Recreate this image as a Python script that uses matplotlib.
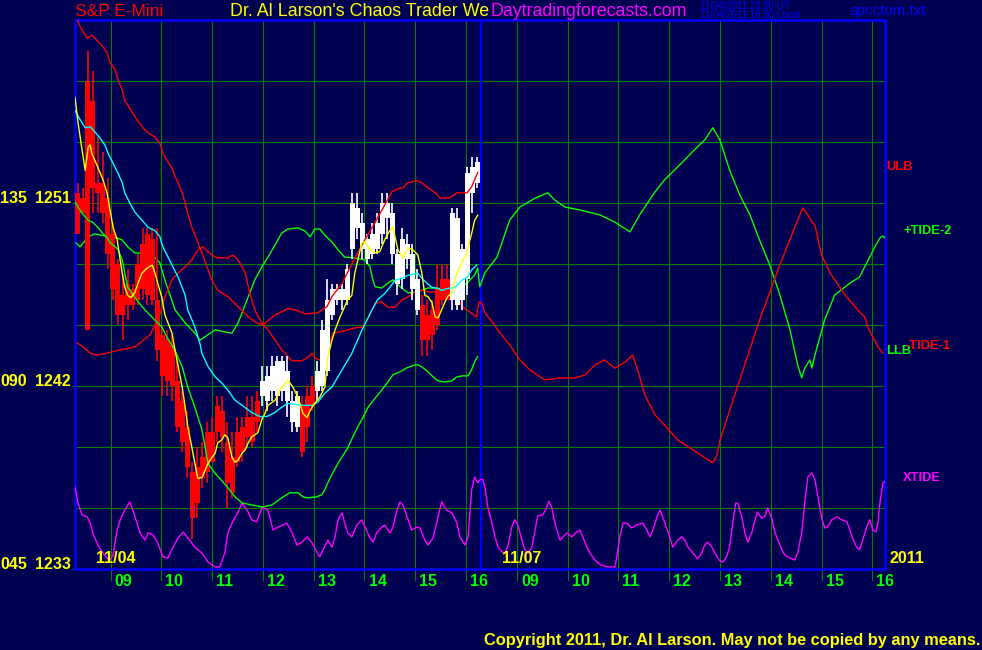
import numpy as np
import matplotlib
matplotlib.use("Agg")
import matplotlib.pyplot as plt

# time axis in hours: 11/04 as is, 11/07 shifted by +8 h
# price scale 1233..1260 on the left, tide scale 045..180 on the same grid

# price bars of 11/04
bar_start = 8.35
bar_step = 0.0984
bar_open = [1251.5, 1251.25, 1257.0, 1256.0, 1252.0, 1252.0, 1251.25, 1249.5, 1248.0, 1246.5,
            1247.0, 1246.75, 1248.0, 1249.0, 1249.5, 1249.25, 1246.25, 1244.5, 1244.25, 1244.0,
            1242.25, 1241.25, 1240.0, 1237.75, 1238.0, 1238.5, 1239.75, 1239.75, 1241.0, 1240.75,
            1239.25, 1238.5, 1239.75, 1240.0, 1240.5, 1240.5, 1241.25, 1241.5, 1241.25, 1241.75,
            1241.5, 1241.75, 1241.25, 1240.25, 1240.0, 1241.0, 1241.5, 1242.0, 1241.75, 1242.0,
            1242.75, 1245.5, 1246.25, 1246.25, 1246.25, 1248.75, 1249.75, 1248.75, 1248.25, 1248.5,
            1248.75, 1249.5, 1250.25, 1248.5, 1247.0, 1247.25, 1248.25, 1246.75, 1245.75, 1246.0,
            1245.5, 1245.75, 1246.75, 1247.25, 1247.25, 1246.25, 1246.0, 1246.25, 1247.25, 1251.5,
            1252.0]
bar_close = [1249.5, 1250.5, 1244.75, 1251.75, 1251.5, 1250.5, 1248.5, 1246.75, 1245.5, 1245.5,
             1246.0, 1246.0, 1246.25, 1246.75, 1246.5, 1246.25, 1243.75, 1242.5, 1242.25, 1242.0,
             1240.0, 1239.25, 1238.0, 1235.5, 1236.25, 1237.5, 1237.75, 1238.25, 1239.75, 1239.5,
             1237.25, 1236.75, 1238.25, 1238.75, 1239.5, 1239.25, 1240.25, 1242.25, 1242.5, 1243.0,
             1243.25, 1243.25, 1242.75, 1241.25, 1241.5, 1238.75, 1240.0, 1241.0, 1242.75, 1244.75,
             1246.25, 1246.75, 1246.75, 1246.75, 1247.75, 1251.0, 1250.75, 1250.0, 1249.25, 1249.5,
             1250.0, 1251.0, 1251.0, 1250.5, 1248.5, 1249.25, 1249.0, 1248.5, 1247.25, 1244.25,
             1244.25, 1244.5, 1245.0, 1246.25, 1246.25, 1250.5, 1250.25, 1248.75, 1252.5, 1252.75,
             1253.0]
bar_high = [1252.0, 1251.75, 1258.5, 1257.5, 1254.25, 1253.5, 1252.25, 1250.0, 1248.25, 1247.5,
            1247.75, 1247.0, 1248.5, 1249.75, 1249.75, 1249.75, 1249.75, 1245.0, 1244.75, 1244.5,
            1243.25, 1241.75, 1240.75, 1238.25, 1239.0, 1239.25, 1240.25, 1240.5, 1241.5, 1241.5,
            1240.25, 1239.75, 1240.5, 1240.5, 1241.5, 1241.5, 1241.75, 1243.0, 1243.0, 1243.5,
            1243.5, 1243.5, 1243.5, 1241.75, 1241.75, 1241.5, 1242.0, 1242.5, 1243.25, 1245.25,
            1247.25, 1247.0, 1247.0, 1247.0, 1248.0, 1251.5, 1251.5, 1250.5, 1249.5, 1250.0,
            1250.5, 1251.5, 1251.5, 1251.0, 1248.75, 1249.75, 1249.5, 1249.0, 1247.75, 1246.5,
            1246.25, 1246.25, 1248.0, 1248.0, 1248.0, 1250.75, 1250.75, 1249.0, 1252.75, 1253.25,
            1253.25]
bar_low = [1249.5, 1250.5, 1244.75, 1250.5, 1250.5, 1250.0, 1247.75, 1246.25, 1245.0, 1244.25,
           1245.25, 1245.75, 1246.0, 1246.25, 1246.0, 1246.0, 1243.25, 1241.5, 1241.5, 1241.25,
           1239.75, 1238.75, 1237.5, 1234.5, 1235.5, 1237.0, 1237.25, 1238.25, 1239.25, 1238.75,
           1236.0, 1236.5, 1238.0, 1238.25, 1239.0, 1239.0, 1239.75, 1241.0, 1240.75, 1241.25,
           1241.0, 1241.25, 1240.5, 1239.75, 1239.75, 1238.5, 1239.25, 1240.75, 1241.25, 1241.75,
           1242.5, 1245.25, 1246.0, 1245.75, 1246.0, 1248.25, 1249.25, 1248.25, 1248.0, 1248.25,
           1248.5, 1249.0, 1249.25, 1248.0, 1246.5, 1246.75, 1247.75, 1246.25, 1245.5, 1243.5,
           1243.5, 1243.75, 1244.75, 1246.0, 1246.25, 1245.75, 1245.75, 1245.75, 1246.5, 1250.5,
           1251.75]

# fast average (yellow)
yel_t = [8.30, 8.36, 8.44, 8.50, 8.56, 8.60, 8.63, 8.69, 8.75, 8.85, 8.93, 8.99, 9.05, 9.13, 9.19,
         9.23, 9.28, 9.34, 9.40, 9.48, 9.54, 9.62, 9.72, 9.82, 9.87, 9.93, 10.01, 10.07, 10.21, 10.27,
         10.41, 10.47, 10.52, 10.60, 10.66, 10.72, 10.80, 10.86, 10.92, 11.00, 11.06, 11.11, 11.19,
         11.25, 11.31, 11.39, 11.45, 11.51, 11.59, 11.65, 11.71, 11.78, 11.90, 11.98, 12.04, 12.10,
         12.24, 12.37, 12.49, 12.59, 12.69, 12.79, 12.87, 12.93, 13.02, 13.12, 13.22, 13.28, 13.36,
         13.42, 13.52, 13.61, 13.67, 13.75, 13.81, 13.87, 13.95, 14.01, 14.11, 14.21, 14.30, 14.40,
         14.50, 14.56, 14.66, 14.76, 14.86, 14.95, 15.05, 15.13, 15.19, 15.25, 15.33, 15.39, 15.45,
         15.52, 15.58, 15.64, 15.72, 15.82, 15.88, 15.94, 16.02, 16.04, 16.11, 16.17, 16.23]
yel_v = [1256.2, 1254.95, 1253.6, 1252.6, 1253.75, 1253.85, 1253.45, 1253.1, 1252.75, 1252.15,
         1251.5, 1250.65, 1249.8, 1249.2, 1248.2, 1247.55, 1246.85, 1246.45, 1246.35, 1246.6,
         1247.05, 1247.55, 1247.8, 1247.95, 1247.6, 1247.05, 1246.35, 1245.5, 1244.6, 1243.75,
         1241.95, 1240.95, 1240.0, 1239.0, 1238.2, 1237.45, 1237.5, 1237.85, 1238.2, 1238.5,
         1238.7, 1239.2, 1239.35, 1239.6, 1239.45, 1238.5, 1238.25, 1238.35, 1238.7, 1238.85,
         1239.2, 1239.5, 1239.7, 1240.35, 1240.65, 1241.05, 1241.3, 1241.95, 1242.3, 1241.95,
         1241.45, 1240.65, 1240.45, 1240.8, 1241.15, 1241.45, 1241.95, 1243.45, 1244.25, 1244.75,
         1245.4, 1245.9, 1246.25, 1246.45, 1247.55, 1248.2, 1249.05, 1249.1, 1248.7, 1248.55,
         1248.6, 1249.2, 1249.65, 1249.8, 1248.7, 1248.3, 1248.8, 1248.7, 1248.45, 1247.55,
         1246.45, 1246.4, 1246.1, 1245.4, 1245.35, 1245.75, 1246.1, 1246.4, 1246.6, 1247.55,
         1247.85, 1248.2, 1248.55, 1248.85, 1249.5, 1250.15, 1250.4]

# slow average (cyan)
cyan_t = [8.30, 8.40, 8.50, 8.60, 8.69, 8.79, 8.89, 8.95, 9.05, 9.15, 9.23, 9.28, 9.38, 9.48, 9.62,
          9.74, 9.87, 9.97, 10.03, 10.13, 10.23, 10.33, 10.41, 10.47, 10.52, 10.66, 10.76, 10.80,
          10.92, 11.06, 11.19, 11.31, 11.45, 11.59, 11.78, 11.94, 12.08, 12.24, 12.34, 12.49, 12.77,
          12.97, 13.08, 13.22, 13.36, 13.56, 13.75, 13.95, 14.15, 14.26, 14.40, 14.50, 14.60, 14.74,
          14.86, 15.05, 15.13, 15.23, 15.33, 15.45, 15.52, 15.64, 15.78, 15.92, 16.02, 16.11, 16.21]
cyan_v = [1255.55, 1255.1, 1254.7, 1254.75, 1254.5, 1254.2, 1253.85, 1253.45, 1252.95, 1252.45,
          1252.0, 1251.5, 1251.0, 1250.55, 1250.15, 1249.8, 1249.65, 1249.35, 1248.85, 1248.35,
          1247.85, 1247.35, 1246.85, 1246.45, 1245.75, 1244.9, 1244.1, 1243.6, 1242.95, 1242.45,
          1242.15, 1241.8, 1241.3, 1241.05, 1240.7, 1240.5, 1240.5, 1240.7, 1240.9, 1241.15,
          1241.05, 1241.05, 1241.2, 1241.65, 1241.95, 1242.8, 1243.6, 1244.75, 1245.75, 1246.25,
          1246.55, 1246.85, 1247.2, 1247.3, 1247.45, 1247.55, 1247.3, 1247.05, 1246.85, 1246.8,
          1246.7, 1246.8, 1246.85, 1247.2, 1247.35, 1247.7, 1247.95]

# upper band ULB (red)
ulb_t = [8.34, 8.44, 8.54, 8.63, 8.73, 8.83, 8.93, 8.99, 9.09, 9.15, 9.23, 9.28, 9.38, 9.48, 9.62,
         9.74, 9.87, 9.97, 10.03, 10.11, 10.21, 10.27, 10.33, 10.41, 10.47, 10.52, 10.60, 10.70,
         10.80, 10.90, 11.00, 11.11, 11.31, 11.51, 11.71, 11.88, 12.00, 12.24, 12.37, 12.49, 12.63,
         12.83, 13.08, 13.26, 13.36, 13.56, 13.75, 14.01, 14.21, 14.42, 14.54, 14.66, 14.76, 14.86,
         15.03, 15.13, 15.25, 15.39, 15.49, 15.68, 15.82, 16.02, 16.11, 16.17, 16.23]
ulb_v = [1260.0, 1259.5, 1259.1, 1259.25, 1259.0, 1258.75, 1258.4, 1257.9, 1257.55, 1257.05,
         1256.55, 1256.05, 1255.65, 1255.25, 1254.75, 1254.45, 1254.25, 1253.95, 1253.45, 1253.1,
         1252.7, 1252.3, 1252.0, 1251.5, 1251.0, 1250.5, 1249.8, 1249.2, 1248.55, 1247.85,
         1247.2, 1246.7, 1246.4, 1245.9, 1245.4, 1245.1, 1245.0, 1245.5, 1245.65, 1245.8,
         1245.75, 1245.55, 1245.6, 1245.9, 1246.4, 1247.05, 1248.0, 1249.2, 1250.05, 1251.0,
         1251.55, 1251.7, 1251.75, 1252.0, 1252.1, 1252.0, 1251.75, 1251.5, 1251.25, 1251.25,
         1251.5, 1251.5, 1251.8, 1252.15, 1252.5]

# lower band LLB (green)
llb_t = [8.30, 8.36, 8.44, 8.56, 8.65, 8.75, 8.85, 8.93, 8.99, 9.09, 9.15, 9.23, 9.28, 9.34, 9.48,
         9.62, 9.87, 10.01, 10.11, 10.27, 10.41, 10.52, 10.66, 10.80, 10.92, 11.06, 11.19, 11.31,
         11.45, 11.59, 11.78, 11.98, 12.18, 12.37, 12.53, 12.69, 12.79, 12.89, 13.06, 13.16, 13.22,
         13.28, 13.38, 13.48, 13.58, 13.67, 13.77, 13.87, 13.97, 14.07, 14.21, 14.34, 14.46, 14.56,
         14.70, 14.84, 14.95, 15.05, 15.15, 15.25, 15.35, 15.45, 15.58, 15.72, 15.82, 15.94, 16.04,
         16.11, 16.17, 16.23]
llb_v = [1251.05, 1250.8, 1250.5, 1250.15, 1250.05, 1249.8, 1249.5, 1249.3, 1249.05, 1248.85,
         1248.7, 1248.2, 1247.55, 1246.85, 1246.35, 1245.9, 1245.25, 1244.9, 1244.4, 1243.75,
         1242.95, 1241.95, 1240.95, 1239.85, 1238.2, 1237.7, 1237.35, 1237.0, 1236.55, 1236.25,
         1236.15, 1236.05, 1236.15, 1236.5, 1236.75, 1236.75, 1236.55, 1236.5, 1236.55, 1236.65,
         1236.9, 1237.25, 1237.75, 1238.2, 1238.6, 1238.95, 1239.5, 1240.0, 1240.45, 1240.95,
         1241.4, 1241.8, 1242.2, 1242.55, 1242.7, 1242.9, 1243.0, 1243.05, 1242.9, 1242.7,
         1242.45, 1242.25, 1242.2, 1242.25, 1242.45, 1242.5, 1242.5, 1242.8, 1243.2, 1243.45]

# +TIDE-2 (green, tide scale)
tide2_t = [8.32, 8.40, 8.56, 8.69, 8.89, 9.13, 9.23, 9.34, 9.48, 9.74, 9.87, 9.97, 10.07, 10.17,
           10.27, 10.47, 10.66, 10.76, 10.86, 11.06, 11.25, 11.39, 11.51, 11.59, 11.71, 11.84,
           11.98, 12.10, 12.24, 12.37, 12.49, 12.69, 12.83, 12.93, 13.02, 13.12, 13.22, 13.36,
           13.48, 13.61, 13.81, 14.01, 14.11, 14.15, 14.21, 14.34, 14.46, 14.56, 14.70, 14.86,
           15.05, 15.25, 15.45, 15.58, 15.72, 15.84, 16.02, 16.17, 16.23, 16.27, 16.37, 16.61,
           16.86, 17.06, 17.36, 17.61, 17.75, 17.95, 18.24, 18.63, 18.93, 19.23, 19.42, 19.72,
           19.91, 20.21, 20.50, 20.70, 20.86, 21.00, 21.19, 21.39, 21.59, 21.78, 21.98, 22.18,
           22.38, 22.53, 22.61, 22.67, 22.77, 22.81, 22.87, 23.06, 23.26, 23.56, 23.75, 23.85,
           23.95, 24.05, 24.15, 24.21, 24.25]
tide2_v = [125.2, 124.2, 126.7, 127.4, 126.9, 126.4, 125.9, 124.2, 122.7, 122.7, 121.7, 120.3,
           116.1, 112.4, 108.7, 105.5, 103.0, 101.3, 102.1, 103.8, 103.3, 103.0, 105.5, 108.0,
           111.9, 116.1, 119.3, 121.7, 124.7, 127.6, 128.6, 128.9, 128.1, 126.7, 128.6, 128.6,
           127.1, 125.4, 123.5, 121.7, 121.5, 121.0, 119.3, 116.8, 114.4, 114.1, 115.3, 116.1,
           114.4, 112.9, 113.1, 114.1, 114.1, 113.4, 113.1, 114.1, 115.3, 117.3, 119.0, 114.4,
           117.8, 121.7, 130.8, 134.0, 136.2, 137.5, 135.7, 134.0, 133.3, 132.1, 130.3, 127.9,
           132.1, 137.7, 140.7, 144.4, 148.1, 150.5, 153.5, 150.5, 143.1, 137.0, 132.1, 125.9,
           119.8, 112.4, 103.8, 95.2, 92.0, 94.4, 96.4, 94.4, 97.6, 106.2, 112.4, 115.3, 116.8,
           119.3, 121.7, 124.2, 126.4, 126.9, 126.4]

# -TIDE-1 (red, tide scale)
tide1_t = [8.34, 8.46, 8.60, 8.73, 8.93, 9.19, 9.48, 9.78, 9.97, 10.07, 10.21, 10.33, 10.47, 10.60,
           10.72, 10.82, 10.92, 11.06, 11.19, 11.31, 11.41, 11.51, 11.59, 11.65, 11.74, 11.84,
           11.98, 12.10, 12.28, 12.37, 12.57, 12.77, 12.89, 12.97, 13.02, 13.12, 13.22, 13.32,
           13.38, 13.52, 13.81, 13.95, 14.05, 14.15, 14.21, 14.34, 14.46, 14.60, 14.74, 14.86,
           14.99, 15.13, 15.29, 15.54, 15.82, 15.94, 16.21, 16.25, 16.31, 16.37, 16.53, 16.67,
           16.86, 17.06, 17.26, 17.55, 17.85, 18.14, 18.34, 18.54, 18.73, 18.93, 19.13, 19.28,
           19.38, 19.52, 19.72, 19.91, 20.17, 20.47, 20.86, 20.94, 21.00, 21.39, 21.78, 22.18,
           22.47, 22.63, 22.73, 22.81, 22.87, 23.00, 23.16, 23.46, 23.75, 23.85, 23.91, 24.01,
           24.11, 24.21]
tide1_v = [100.6, 99.6, 98.1, 97.6, 98.1, 98.9, 99.6, 102.6, 107.5, 111.9, 116.1, 117.8, 119.3,
           121.0, 123.5, 124.2, 123.0, 121.7, 121.5, 121.5, 122.2, 121.0, 119.3, 117.8, 112.9,
           108.7, 105.5, 103.8, 100.6, 98.9, 96.2, 96.2, 97.1, 98.1, 96.9, 96.4, 98.1, 100.6,
           103.0, 103.3, 104.3, 104.5, 106.2, 108.7, 110.4, 110.7, 109.4, 109.4, 111.2, 111.9,
           113.1, 113.6, 113.1, 113.1, 111.9, 109.4, 107.0, 110.7, 110.4, 108.0, 105.5, 103.0,
           100.1, 96.4, 93.9, 91.5, 92.0, 92.0, 92.7, 95.2, 96.4, 94.4, 95.9, 97.6, 93.9, 87.8,
           82.9, 80.4, 76.7, 74.3, 71.1, 73.0, 76.7, 91.5, 106.2, 119.8, 128.9, 133.8, 132.1,
           130.3, 129.6, 122.2, 118.0, 112.4, 108.2, 107.0, 104.5, 102.1, 99.6, 98.1]

# XTIDE (magenta, tide scale)
xt_t = [8.30, 8.36, 8.44, 8.54, 8.60, 8.65, 8.75, 8.85, 8.93, 8.99,
        9.05, 9.13, 9.19, 9.28, 9.38, 9.44, 9.52, 9.58, 9.68, 9.74,
        9.84, 9.93, 10.03, 10.13, 10.23, 10.33, 10.43, 10.52, 10.66, 10.80,
        10.92, 11.06, 11.15, 11.25, 11.31, 11.39, 11.51, 11.59, 11.65, 11.71,
        11.78, 11.88, 11.94, 12.00, 12.10, 12.20, 12.30, 12.47, 12.57, 12.67,
        12.77, 12.87, 12.97, 13.06, 13.12, 13.18, 13.28, 13.36, 13.42, 13.48,
        13.56, 13.61, 13.67, 13.75, 13.85, 13.95, 14.01, 14.11, 14.17, 14.24,
        14.34, 14.40, 14.50, 14.56, 14.64, 14.70, 14.76, 14.86, 14.93, 15.03,
        15.09, 15.19, 15.25, 15.35, 15.45, 15.52, 15.62, 15.72, 15.82, 15.88,
        15.98, 16.04, 16.11, 16.17, 16.23, 16.27, 16.33, 16.37, 16.43, 16.51,
        16.57, 16.63, 16.71, 16.76, 16.82, 16.90, 16.96, 17.02, 17.10, 17.16,
        17.22, 17.30, 17.36, 17.41, 17.51, 17.59, 17.63, 17.69, 17.75, 17.85,
        17.91, 17.99, 18.08, 18.18, 18.24, 18.30, 18.38, 18.44, 18.54, 18.63,
        18.73, 18.83, 18.93, 18.97, 19.03, 19.09, 19.17, 19.26, 19.36, 19.48,
        19.56, 19.62, 19.68, 19.76, 19.82, 19.87, 19.95, 20.01, 20.07, 20.17,
        20.25, 20.31, 20.37, 20.47, 20.56, 20.64, 20.70, 20.76, 20.84, 20.94,
        21.00, 21.06, 21.13, 21.19, 21.25, 21.31, 21.35, 21.43, 21.49, 21.55,
        21.63, 21.69, 21.74, 21.82, 21.88, 21.94, 22.02, 22.08, 22.14, 22.22,
        22.28, 22.38, 22.47, 22.53, 22.61, 22.67, 22.73, 22.81, 22.87, 22.93,
        23.00, 23.06, 23.12, 23.20, 23.30, 23.40, 23.50, 23.56, 23.61, 23.69,
        23.75, 23.81, 23.89, 23.95, 24.01, 24.07, 24.11, 24.15, 24.21, 24.25]
xt_v = [65.2, 61.2, 58.3, 57.8, 56.3, 53.9, 50.9, 48.9, 47.7, 47.2,
        48.4, 54.6, 57.1, 59.5, 61.5, 59.5, 56.3, 53.9, 52.1, 53.9,
        53.4, 51.4, 48.0, 47.7, 50.4, 52.6, 54.1, 52.6, 50.4, 48.9,
        46.7, 45.5, 45.5, 48.9, 53.9, 56.3, 59.0, 61.2, 60.2, 59.0,
        57.1, 56.6, 58.8, 60.2, 59.5, 54.6, 55.3, 56.3, 54.1, 50.9,
        51.6, 52.9, 51.4, 49.2, 48.0, 49.7, 52.1, 50.4, 52.9, 57.1,
        58.8, 56.3, 53.9, 52.9, 55.8, 57.1, 55.3, 52.6, 51.6, 53.9,
        55.3, 55.8, 53.9, 55.3, 59.5, 61.5, 60.7, 57.1, 54.6, 55.3,
        55.1, 52.1, 50.9, 52.6, 57.8, 61.5, 59.5, 58.8, 56.3, 52.9,
        50.9, 52.9, 64.4, 67.6, 66.2, 66.9, 67.1, 65.2, 60.2, 56.3,
        52.9, 50.4, 49.2, 48.9, 50.4, 55.3, 57.1, 55.8, 52.1, 49.7,
        48.9, 50.4, 54.6, 58.0, 58.3, 60.2, 61.7, 60.0, 56.3, 52.1,
        52.9, 53.9, 52.9, 54.1, 54.6, 52.9, 50.4, 48.9, 47.2, 46.2,
        45.7, 45.5, 45.5, 48.0, 52.9, 56.3, 56.3, 55.1, 55.8, 56.3,
        54.6, 52.9, 54.6, 57.8, 59.5, 57.8, 55.1, 52.9, 50.4, 52.1,
        52.9, 52.1, 50.4, 48.9, 47.5, 48.9, 50.9, 51.6, 50.4, 48.0,
        47.0, 46.7, 48.0, 50.4, 56.3, 61.2, 61.2, 57.8, 53.9, 51.6,
        54.1, 57.1, 59.0, 57.5, 57.8, 60.0, 57.5, 54.1, 52.1, 49.7,
        48.4, 47.7, 47.2, 48.9, 53.9, 61.2, 67.6, 68.6, 66.9, 62.7,
        57.8, 55.1, 55.3, 57.1, 57.8, 57.1, 56.6, 54.6, 52.6, 50.4,
        49.7, 52.1, 55.3, 57.1, 54.6, 54.1, 56.3, 61.2, 66.2, 66.4]

hour_labels = ['09', '10', '11', '12', '13', '14', '15', '16']
day1_hours = [9, 10, 11, 12, 13, 14, 15, 16]
day2_hours = [17, 18, 19, 20, 21, 22, 23, 24]
left_labels = [('135', '1251', 1251), ('090', '1242', 1242), ('045', '1233', 1233)]


def tide(v):
    # tide scale 045..180 drawn on the price grid 1233..1260
    return 1233 + (np.array(v) - 45) / 5.0


def px_text(x, y, s, **kw):
    fig.text(x / 982, 1 - y / 650, s, **kw)


plt.rcParams['font.family'] = ['Liberation Sans', 'DejaVu Sans']
bg = '#000050'
grid_c = '#008000'

fig = plt.figure(figsize=(9.82, 6.5), dpi=100, facecolor=bg)
ax = fig.add_axes([75 / 982, 81 / 650, 810 / 982, 549 / 650])
ax.set_facecolor(bg)
ax.set_xlim(8.3, 24.25)
ax.set_ylim(1233, 1260)

# grid
for p in range(1236, 1260, 3):
    ax.axhline(p, color=grid_c, lw=0.8, zorder=1)
for x in day1_hours + day2_hours:
    ax.plot([x, x], [1232.45, 1260], color=grid_c, lw=0.8, clip_on=False, zorder=1)
ax.axvline(16.3, color='#0000ff', lw=1.5, zorder=2)

for s in ax.spines.values():
    s.set_color('#0000ff')
    s.set_linewidth(1.8)
ax.set_xticks([])
ax.set_yticks([1233, 1242, 1251])
ax.tick_params(axis='y', length=2.5, color=grid_c, width=0.8, labelleft=False)

# tides
ax.plot(xt_t, tide(xt_v), color='#ff00ff', lw=1.0, zorder=3)
ax.plot(tide2_t, tide(tide2_v), color='#00ff00', lw=1.0, zorder=3)
ax.plot(tide1_t, tide(tide1_v), color='#ff0000', lw=1.0, zorder=3)

# price bars
o = np.array(bar_open)
c = np.array(bar_close)
bar_t = bar_start + bar_step * np.arange(len(o))
cols = np.where(c < o, '#ff0000', '#ffffff')
ax.vlines(bar_t, bar_low, bar_high, colors=cols, lw=1.2, zorder=4)
ax.bar(bar_t, np.abs(c - o), bottom=np.minimum(o, c), width=0.09, color=cols,
       linewidth=0, zorder=4)

# bands and averages
ax.plot(ulb_t, ulb_v, color='#ff0000', lw=1.0, zorder=5)
ax.plot(llb_t, llb_v, color='#00ff00', lw=1.0, zorder=5)
ax.plot(cyan_t, cyan_v, color='#00ffff', lw=1.0, zorder=5)
ax.plot(yel_t, yel_v, color='#ffff00', lw=1.0, zorder=6)

# hour labels under the axis
for x, lab in zip(day1_hours + day2_hours, hour_labels + hour_labels):
    ax.text(x + 0.08, 1232.4, lab, color='#00ff00', fontsize=11.5, fontweight='bold',
            ha='left', va='center', clip_on=False)
ax.text(8.71, 1233.5, '11/04', color='#ffff00', fontsize=11.5, fontweight='bold', va='center')
ax.text(16.71, 1233.5, '11/07', color='#ffff00', fontsize=11.5, fontweight='bold', va='center')
ax.text(24.34, 1233.5, '2011', color='#ffff00', fontsize=11.5, fontweight='bold', va='center',
        clip_on=False)

# left scale labels
for a, b, p in left_labels:
    y = 569 - (p - 1233) * 20.33
    px_text(27, y, a, color='#ffff00', fontsize=11.5, fontweight='bold', ha='right', va='baseline')
    px_text(71, y, b, color='#ffff00', fontsize=11.5, fontweight='bold', ha='right', va='baseline')

# header
px_text(75, 12, 'S&P E-Mini', color='#ff0000', fontsize=12.5, va='center')
px_text(230, 12, "Dr. Al Larson's Chaos Trader We", color='#ffff00', fontsize=12.9, va='center')
px_text(491, 12, 'Daytradingforecasts.com', color='#ff00ff', fontsize=12.8, va='center')
px_text(700, 6, '11/04/2011 23:20 UT', color='#0000ff', fontsize=7, va='center')
px_text(700, 15, '11/04/2011 18:20 Local', color='#0000ff', fontsize=7, va='center')
px_text(850, 11, 'spcctom.txt', color='#0000ff', fontsize=11, va='center')

# right side series names
px_text(886, 167, 'ULB', color='#ff0000', fontsize=9.3, fontweight='bold', va='center')
px_text(903, 231, '+TIDE-2', color='#00ff00', fontsize=9.3, fontweight='bold', va='center')
px_text(886, 351, 'LLB', color='#00ff00', fontsize=9.3, fontweight='bold', va='center')
px_text(905, 346, '-TIDE-1', color='#ff0000', fontsize=9.3, fontweight='bold', va='center')
px_text(903, 478, 'XTIDE', color='#ff00ff', fontsize=9.3, fontweight='bold', va='center')

px_text(980, 640, 'Copyright 2011, Dr. Al Larson. May not be copied by any means.',
        color='#ffff00', fontsize=11.8, fontweight='bold', ha='right', va='center')

fig.savefig('out.png', dpi=100, facecolor=bg)
